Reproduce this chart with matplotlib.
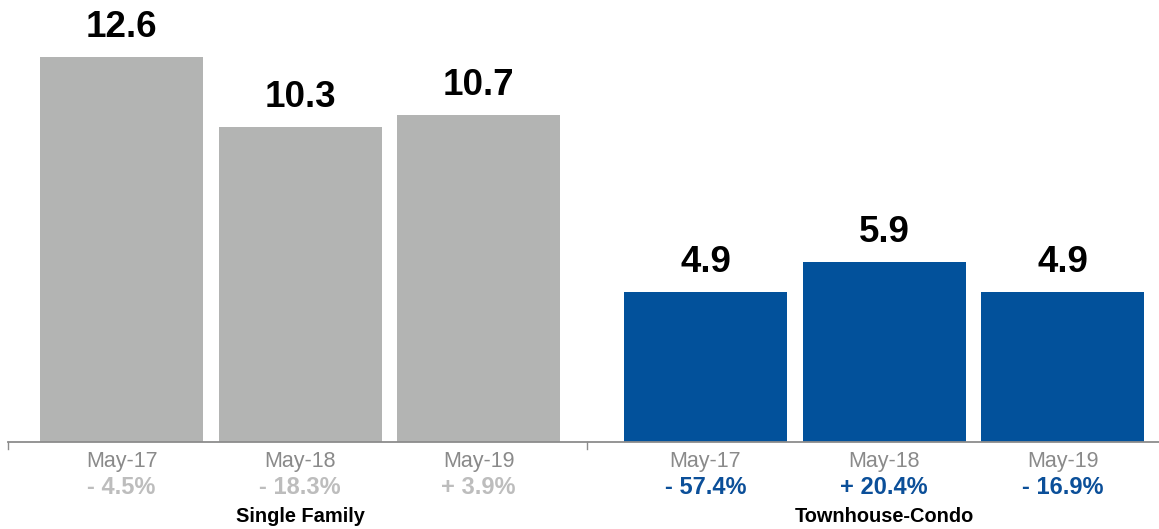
import matplotlib.pyplot as plt
from matplotlib import transforms

# ---------------- DATA ---------------- #

groups = ["Single Family", "Townhouse-Condo"]
periods = ["May-17", "May-18", "May-19"]
single_family = [12.6, 10.3, 10.7]
townhouse_condo = [4.9, 5.9, 4.9]
single_family_change = ["- 4.5%", "- 18.3%", "+ 3.9%"]
townhouse_condo_change = ["- 57.4%", "+ 20.4%", "- 16.9%"]

# ---------------- STYLE ---------------- #

GRAY_BAR = "#b3b4b3"
BLUE_BAR = "#02519b"
TICK_GRAY = "#8a8a8a"
PCT_GRAY = "#bdbdbd"
PCT_BLUE = "#0b4f99"
AXIS_GRAY = "#8c8c8c"

plt.rcParams["font.family"] = ["Liberation Sans", "DejaVu Sans"]

W, H = 1159, 529
BASE_PX = 442          # baseline, pixels from the top
GROUP_GAP = 0.27       # extra space between the two groups
BAR_WIDTH = 0.913

fig = plt.figure(figsize=(W / 100, H / 100), dpi=100)
ax = fig.add_axes([8 / W, (H - BASE_PX) / H, (W - 8) / W, BASE_PX / H])

n = len(periods)
x_sf = [i for i in range(n)]
x_tc = [i + GROUP_GAP for i in range(n, 2 * n)]

ax.bar(x_sf, single_family, width=BAR_WIDTH, color=GRAY_BAR)
ax.bar(x_tc, townhouse_condo, width=BAR_WIDTH, color=BLUE_BAR)

ax.set_xlim(-0.636, 5.81)
ax.set_ylim(0, 14.46)
ax.axis("off")

# baseline with small separator ticks
ax.axhline(0, color=AXIS_GRAY, lw=1.3, clip_on=False)
sep = (x_sf[-1] + x_tc[0]) / 2 - 0.03
for xt in (-0.636, sep):
    ax.plot([xt, xt], [0, -0.22], color=AXIS_GRAY, lw=1.0, clip_on=False)

# value labels above each bar
for xs, vals in ((x_sf, single_family), (x_tc, townhouse_condo)):
    for x, v in zip(xs, vals):
        ax.annotate(f"{v:.1f}", (x, v), xytext=(0, 14.5), textcoords="offset points",
                    ha="center", va="baseline", fontsize=26.5, fontweight="bold",
                    color="black")

# labels below the baseline, placed in pixels from the top
trans = transforms.blended_transform_factory(ax.transData, fig.transFigure)


def ypix(p):
    return (H - p) / H


for xs, changes, pct_color in ((x_sf, single_family_change, PCT_GRAY),
                               (x_tc, townhouse_condo_change, PCT_BLUE)):
    for x, per, ch in zip(xs, periods, changes):
        ax.text(x, ypix(461), per, transform=trans, ha="center", va="center",
                fontsize=15.5, color=TICK_GRAY)
        ax.text(x, ypix(488), ch, transform=trans, ha="center", va="center",
                fontsize=17, fontweight="bold", color=pct_color)

for xs, name in ((x_sf, groups[0]), (x_tc, groups[1])):
    ax.text(xs[1], ypix(516), name, transform=trans, ha="center", va="center",
            fontsize=14.4, fontweight="bold", color="black")

fig.savefig("out.png", dpi=100)
